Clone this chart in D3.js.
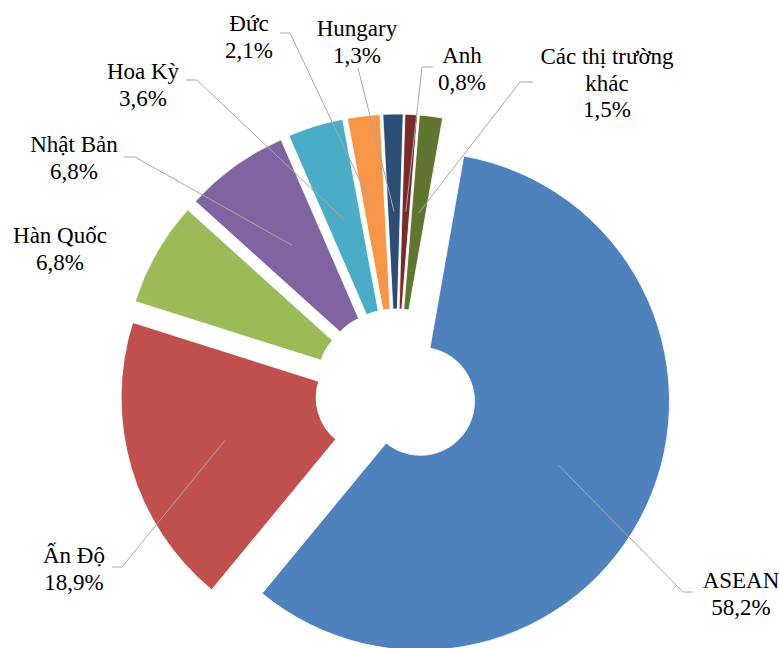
<!DOCTYPE html>
<html><head><meta charset="utf-8">
<script src="https://cdn.jsdelivr.net/npm/d3@7"></script>
<style>body{margin:0;background:#fff}svg{display:block}</style>
</head><body>
<svg id="c" width="779" height="648"></svg>
<script>
// ---- data ----
const categories = ["ASEAN","Ấn Độ","Hàn Quốc","Nhật Bản","Hoa Kỳ","Đức","Hungary","Anh","Các thị trường khác"];
const values = [58.2,18.9,6.8,6.8,3.6,2.1,1.3,0.8,1.5];
const valueLabels = ["58,2%","18,9%","6,8%","6,8%","3,6%","2,1%","1,3%","0,8%","1,5%"];
const nameLines = [["ASEAN"],["Ấn Độ"],["Hàn Quốc"],["Nhật Bản"],["Hoa Kỳ"],["Đức"],["Hungary"],["Anh"],["Các thị trường","khác"]];
const colors = ["#4F81BD","#C0504D","#9BBB59","#8064A2","#4BACC6","#F79646","#2C4D75","#772C2A","#5F7530"];

// ---- layout ----
const cx = 396, cy = 390, outerR = 249, innerR = 54, explode = 27;
const fontSize = 23, lineGap = 26.5;
const labelLayout = [
  {x:741, y:588, leader:[[693,592],[683,592]]},
  {x:74,  y:563, leader:[[112,567],[122,567]]},
  {x:60,  y:243, leader:null},
  {x:74,  y:152, leader:[[124,157],[135,157]]},
  {x:143, y:79,  leader:[[186,80],[197,80]]},
  {x:249, y:31,  leader:[[280,33],[290,33]]},
  {x:357, y:36,  leader:[[358,68]]},
  {x:462, y:63,  leader:[[433,67],[422,67]]},
  {x:607, y:64,  leader:[[533,82],[520,82]]}
];

const svg = d3.select("#c");
const data = categories.map((c,i)=>({name:c, value:values[i], i}));
const pie = d3.pie().sort(null).value(d=>d.value)
  .startAngle(10*Math.PI/180).endAngle(370*Math.PI/180);
const arc = d3.arc().innerRadius(innerR).outerRadius(outerR);
const arcs = pie(data);

function offset(a){
  const m = (a.startAngle + a.endAngle)/2;
  return [cx + explode*Math.sin(m), cy - explode*Math.cos(m)];
}

svg.append("g").selectAll("path").data(arcs).join("path")
  .attr("d", arc)
  .attr("transform", d=>{const o=offset(d); return `translate(${o[0]},${o[1]})`;})
  .attr("fill", d=>colors[d.data.i])
  .attr("stroke", "#fff").attr("stroke-width", 0.8);

const lg = svg.append("g");
arcs.forEach(a=>{
  const L = labelLayout[a.data.i];
  if(!L.leader) return;
  const o = offset(a), c = arc.centroid(a);
  const pts = L.leader.concat([[o[0]+c[0], o[1]+c[1]]]);
  lg.append("path").attr("d", d3.line()(pts))
    .attr("fill","none").attr("stroke","#A6A6A6").attr("stroke-width",1);
});

arcs.forEach(a=>{
  const i = a.data.i, L = labelLayout[i];
  const lines = nameLines[i].concat([valueLabels[i]]);
  lines.forEach((s,k)=>{
    svg.append("text")
      .attr("x",L.x).attr("y",L.y + k*lineGap)
      .style("font-family",'"Liberation Serif"')
      .style("font-size",fontSize+"px")
      .style("fill","#000")
      .style("text-anchor","middle")
      .text(s);
  });
});
</script>
</body></html>
